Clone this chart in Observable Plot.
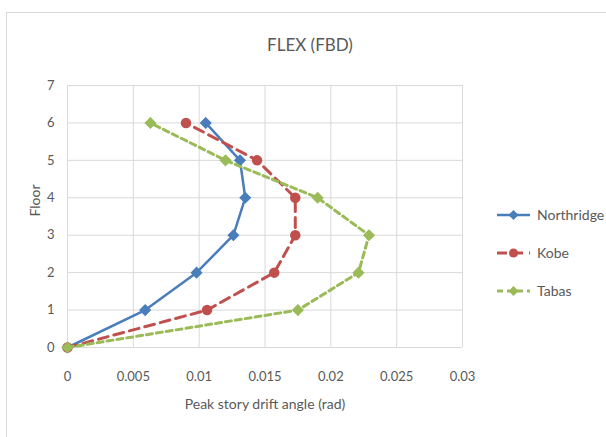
<!DOCTYPE html>
<html><head><meta charset="utf-8">
<script src="https://cdn.jsdelivr.net/npm/d3@7"></script>
<script src="https://cdn.jsdelivr.net/npm/@observablehq/plot@0.6"></script>
<style>
body{margin:0;background:#fff;font-family:Lato,"Open Sans",sans-serif;}
#wrap{position:relative;width:606px;height:437px;overflow:hidden;background:#fff;}
#frame{position:absolute;left:6px;top:12px;width:700px;height:500px;border:1px solid #d9d9d9;}
#title{position:absolute;top:35px;left:0;width:620px;text-align:center;font-size:17px;line-height:20px;color:#595959;}
#chart{position:absolute;left:0;top:60px;}
#legend{position:absolute;left:497px;top:0;font-size:14px;color:#595959;}
.row{position:absolute;left:0;white-space:nowrap;height:20px;line-height:20px;}
.row svg{position:absolute;left:0;top:0;}
.row span{position:absolute;left:40px;top:0;}
</style>
</head><body>
<div id="wrap">
  <div id="frame"></div>
  <div id="title">FLEX (FBD)</div>
  <div id="chart"></div>
  <div id="legend"></div>
</div>
<script>
const floors = [0, 1, 2, 3, 4, 5, 6];
const northridge = [0, 0.0059, 0.0098, 0.0126, 0.0135, 0.0131, 0.0105];
const kobe = [0, 0.0106, 0.0157, 0.0173, 0.0173, 0.0144, 0.0090];
const tabas = [0, 0.0175, 0.0221, 0.0229, 0.0190, 0.0120, 0.0063];
const seriesNames = ["Northridge", "Kobe", "Tabas"];
const seriesColors = ["#4a7ebb", "#c0504d", "#9bbb59"];
const seriesDash = [null, "10,6", "6,4"];
const seriesSymbols = ["diamond2", "circle", "diamond2"];
const xTicks = [0, 0.005, 0.01, 0.015, 0.02, 0.025, 0.03];
const xTickLabels = ["0", "0.005", "0.01", "0.015", "0.02", "0.025", "0.03"];
const yTicks = [0, 1, 2, 3, 4, 5, 6, 7];
const xLabel = "Peak story drift angle (rad)";
const yLabel = "Floor";

const allValues = [northridge, kobe, tabas];
const data = [];
allValues.forEach((vals, si) => {
  vals.forEach((v, i) => data.push({series: seriesNames[si], x: v, floor: floors[i]}));
});
const widths = [2.5, 3, 3];

const marks = [
  Plot.gridX(xTicks, {stroke: "#d9d9d9", strokeOpacity: 1}),
  Plot.gridY(yTicks, {stroke: "#d9d9d9", strokeOpacity: 1}),
  Plot.axisX(xTicks, {tickSize: 0, tickPadding: 24, tickFormat: (d, i) => xTickLabels[i], fontSize: 13, color: "#595959", label: null}),
  Plot.axisY(yTicks, {tickSize: 0, tickPadding: 13, fontSize: 13, color: "#595959", label: null}),
  Plot.text([yLabel], {frameAnchor: "left", dx: -32, rotate: -90, fontSize: 14, fill: "#595959"}),
  Plot.text([xLabel], {frameAnchor: "bottom", dy: 61, fontSize: 14, fill: "#595959"})
];
seriesNames.forEach((name, si) => {
  const d = data.filter(r => r.series === name);
  marks.push(Plot.line(d, {x: "x", y: "floor", stroke: seriesColors[si], strokeWidth: widths[si], strokeDasharray: seriesDash[si]}));
  marks.push(Plot.dot(d, {x: "x", y: "floor", fill: seriesColors[si], stroke: seriesColors[si], symbol: seriesSymbols[si], r: 4.5}));
});

const chart = Plot.plot({
  width: 606,
  height: 377,
  marginLeft: 67,
  marginRight: 144,
  marginTop: 25,
  marginBottom: 90,
  style: {fontFamily: "Lato, 'Open Sans', sans-serif", background: "transparent"},
  x: {domain: [0, 0.03]},
  y: {domain: [0, 7]},
  marks
});
document.getElementById("chart").appendChild(chart);

const legend = document.getElementById("legend");
const rowY = [205, 243, 281];
seriesNames.forEach((name, si) => {
  const row = document.createElement("div");
  row.className = "row";
  row.style.top = rowY[si] + "px";
  const dash = seriesDash[si] ? `stroke-dasharray="${seriesDash[si]}"` : "";
  const sym = seriesSymbols[si] === "circle"
    ? `<circle cx="16.5" cy="10" r="4.5" fill="${seriesColors[si]}"/>`
    : `<path d="M16.5,5L21.5,10L16.5,15L11.5,10Z" fill="${seriesColors[si]}"/>`;
  row.innerHTML = `<svg width="34" height="20"><line x1="0" y1="10" x2="33" y2="10" stroke="${seriesColors[si]}" stroke-width="${widths[si]}" ${dash}/>${sym}</svg><span>${name}</span>`;
  legend.appendChild(row);
});
</script>
</body></html>
